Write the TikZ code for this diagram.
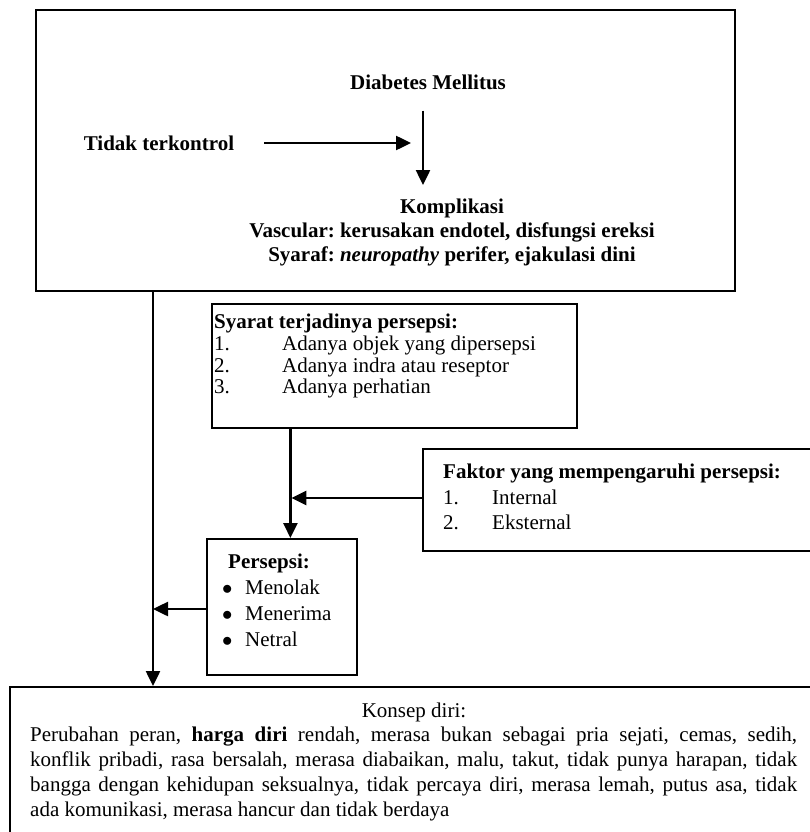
\documentclass[tikz,border=0pt]{standalone}
\usepackage{fontspec}
\setmainfont{Liberation Serif}
\usetikzlibrary{arrows.meta}

\tikzset{
  box/.style={draw, line width=2pt},
  lbl/.style={inner sep=0pt, font=\fontsize{21}{24}\selectfont},
  arr/.style={line width=2.5pt, -{Triangle[length=15pt,width=14pt]}}
}
\newcommand{\itembullet}{\makebox[23pt][l]{$\bullet$}}

\begin{document}
\frenchspacing
\begin{tikzpicture}[x=1pt, y=-1pt]
  \useasboundingbox (0,0) rectangle (810,832);
  \clip (0,0) rectangle (810,832);

  \node[box, minimum width=699pt, minimum height=281pt] (dmbox) at (385.5,150.5) {};
  \node[box, line width=1.2pt, minimum width=365pt, minimum height=124pt] (syaratbox) at (394.5,366) {};
  \node[box, minimum width=391pt, minimum height=102pt] (faktorbox) at (618.5,500) {};
  \node[box, minimum width=150pt, minimum height=136pt] (persbox) at (282,607) {};
  \node[box, minimum width=810pt, minimum height=160pt] (konsepbox) at (415,767) {};

  \node[lbl] (dm) at (428,82) {\textbf{Diabetes Mellitus}};
  \node[lbl] (tidak) at (159,143) {\textbf{Tidak terkontrol}};
  \node[lbl, anchor=north, align=center, font=\fontsize{21}{24}\selectfont\bfseries] (kompl) at (452,199)
    {Komplikasi\\ Vascular: kerusakan endotel, disfungsi ereksi\\ Syaraf: \textit{neuropathy} perifer, ejakulasi dini};

  \node[lbl, anchor=north west, align=left, font=\fontsize{21}{21.7}\selectfont] (syarat) at (214,314)
    {\textbf{Syarat terjadinya persepsi:}\\
     \makebox[68pt][l]{1.}Adanya objek yang dipersepsi\\
     \makebox[68pt][l]{2.}Adanya indra atau reseptor\\
     \makebox[68pt][l]{3.}Adanya perhatian};
  \node[lbl, anchor=north west, align=left, font=\fontsize{21}{25.5}\selectfont] (faktor) at (443,464)
    {\textbf{Faktor yang mempengaruhi persepsi:}\\
     \makebox[49pt][l]{1.}Internal\\
     \makebox[49pt][l]{2.}Eksternal};
  \node[lbl, anchor=north west, align=left, font=\fontsize{21}{26}\selectfont] (pers) at (222,554)
    {\hspace*{6pt}\textbf{Persepsi:}\\
     \itembullet Menolak\\
     \itembullet Menerima\\
     \itembullet Netral};

  \node[lbl] (konsephead) at (414,712) {Konsep diri:};
  \node[lbl, anchor=north west, text width=767pt, align=justify] (konseptext) at (30,727)
    {\fontsize{21}{25}\selectfont
     Perubahan peran, \textbf{harga diri} rendah, merasa bukan sebagai pria sejati, cemas, sedih,\linebreak
     konflik pribadi, rasa bersalah, merasa diabaikan, malu, takut, tidak punya harapan, tidak\linebreak
     bangga dengan kehidupan seksualnya, tidak percaya diri, merasa lemah, putus asa, tidak\linebreak
     ada komunikasi, merasa hancur dan tidak berdaya\par};

  \coordinate (dmdown) at ([xshift=-5pt]dm.south);
  \draw[arr, shorten <=21pt, shorten >=14pt] (dmdown) -- (dmdown |- kompl.north);
  \draw[arr, shorten <=30pt, shorten >=12pt] (tidak.east) -- (tidak.east -| dmdown);

  \coordinate (spine) at ([xshift=118pt]dmbox.south west);
  \draw[arr] (spine) -- (spine |- konsepbox.north);
  \coordinate (s1) at ([xshift=79pt]syaratbox.south west);
  \draw[arr] (s1) -- (s1 |- persbox.north);
  \draw[arr, shorten >=1pt] ([yshift=2pt]faktorbox.west) -- ([yshift=2pt]faktorbox.west -| s1);
  \draw[arr] ([yshift=-2pt]persbox.west) -- ([yshift=-2pt]persbox.west -| spine);
\end{tikzpicture}
\end{document}
